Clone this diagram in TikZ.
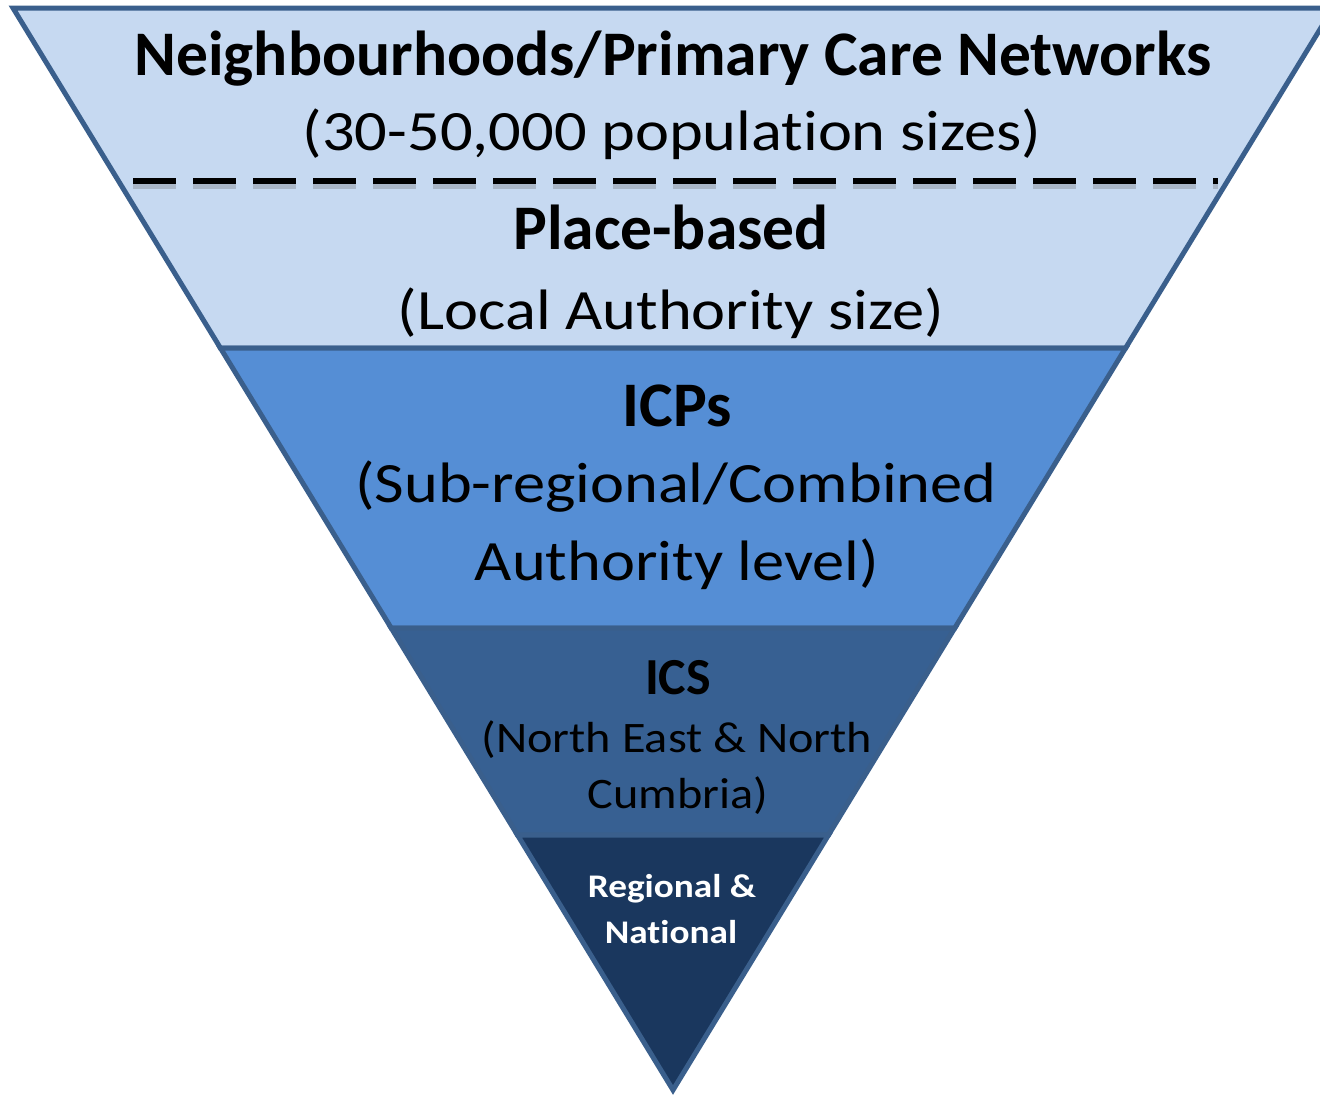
\documentclass[tikz,border=0pt]{standalone}
\usepackage{fontspec}
\setmainfont{Carlito}[Ligatures=NoCommon]
\definecolor{edge}{HTML}{3A5F8C}
\definecolor{bandA}{HTML}{C6D9F1}
\definecolor{bandB}{HTML}{558ED5}
\definecolor{bandC}{HTML}{376092}
\definecolor{bandD}{HTML}{1A375E}
\newcommand{\widetext}[2]{\scalebox{#1}[1]{#2}}
\tikzset{
  band/.style={draw=edge, line width=5pt, line join=miter},
  big/.style={anchor=base, inner sep=0pt, font=\fontsize{57}{60}\selectfont},
  bigb/.style={anchor=base, inner sep=0pt, font=\fontsize{63.5}{66}\selectfont\bfseries},
  mid/.style={anchor=base, inner sep=0pt, font=\fontsize{43.5}{46}\selectfont},
  midb/.style={anchor=base, inner sep=0pt, font=\fontsize{52}{56}\selectfont\bfseries},
  small/.style={anchor=base, inner sep=0pt, text=white, font=\fontsize{33}{36}\selectfont\bfseries},
}
\begin{document}
\begin{tikzpicture}[x=1pt, y=-1pt]
\useasboundingbox (0,0) rectangle (1320,1098);
\clip (0,0) rectangle (1320,1098);
% bands
\path[band, fill=bandA] (13,8) -- (1333,8) -- (1125.6,348) -- (220.4,348) -- cycle;
\path[band, fill=bandB] (220.4,348) -- (1125.6,348) -- (954.8,628) -- (391.2,628) -- cycle;
\path[band, fill=bandC] (391.2,628) -- (954.8,628) -- (828.5,835) -- (517.5,835) -- cycle;
\path[band, fill=bandD] (517.5,835) -- (828.5,835) -- (673,1090) -- cycle;
% dashed divider
\coordinate (dl) at (133,181);
\coordinate (dr) at (1218,181);
\draw[black!60, opacity=0.3, line width=8pt, dash pattern=on 43pt off 17pt] ([shift={(0,4)}]dl) -- ([shift={(0,4)}]dr);
\draw[black, line width=6pt, dash pattern=on 43pt off 17pt] (dl) -- (dr);
% texts
\node[bigb] (t1) at (673,75) {Neighbourhoods/Primary Care Networks};
\node[big]  (t2) at (672,150) {\widetext{1.13}{(30-50,000 population sizes)}};
\node[bigb] (t3) at (671,249) {Place-based};
\node[big]  (t4) at (671,329) {\widetext{1.13}{(Local Authority size)}};
\node[bigb] (t5) at (677,426) {ICPs};
\node[big]  (t6) at (676,502) {\widetext{1.13}{(Sub-regional/Combined}};
\node[big]  (t7) at (677,580) {\widetext{1.13}{Authority level)}};
\node[midb] (t8) at (678,694) {ICS};
\node[mid]  (t9) at (677,752) {\widetext{1.11}{(North East \& North}};
\node[mid]  (t10) at (678,808) {\widetext{1.11}{Cumbria)}};
\node[small] (t11) at (672,897) {\widetext{1.13}{Regional \&}};
\node[small] (t12) at (671,943) {\widetext{1.13}{National}};
\end{tikzpicture}
\end{document}
